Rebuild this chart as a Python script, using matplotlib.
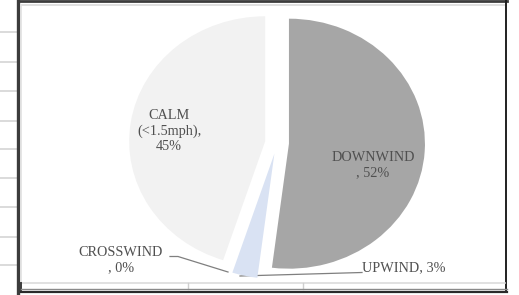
import matplotlib
matplotlib.use("Agg")
import matplotlib.pyplot as plt

# wind direction shares (%), clockwise from 12 o'clock
categories = ["DOWNWIND", "UPWIND", "CROSSWIND", "CALM (<1.5mph)"]
shares = [52, 3, 0, 45]
labels = ["DOWNWIND\n, 52%", "UPWIND, 3%", "CROSSWIND\n, 0%", "CALM\n(<1.5mph),\n45%"]
colors = ["#a6a6a6", "#d9e2f3", "#d9e2f3", "#f2f2f2"]

W, H = 519, 295
fig = plt.figure(figsize=(W / 100, H / 100), dpi=100)

# spreadsheet background + chart frame, drawn in pixel coordinates
bg = fig.add_axes([0, 0, 1, 1])
bg.set_xlim(0, W)
bg.set_ylim(H, 0)
bg.axis("off")
for y in [32, 62, 91, 121, 149, 178, 207, 237, 265]:
    bg.plot([0, 17], [y, y], color="#d4d4d4", lw=1.2)
bg.plot([18, 18], [0, H], color="#3c3c3c", lw=2.4)
bg.plot([18, W - 12], [0.8, 0.8], color="#3c3c3c", lw=2.0)
bg.plot([21, W - 14], [5, 5], color="#e0e0e0", lw=1.4)
bg.plot([21, 21], [5, 283], color="#e0e0e0", lw=1.2)
bg.plot([W - 13, W - 13], [0, 292], color="#202020", lw=1.4)
bg.plot([21, W - 14], [283, 283], color="#dcdcdc", lw=1.2)
for x in [188, 303]:
    bg.plot([x, x], [283, 289], color="#cfcfcf", lw=1.0)
bg.plot([21, 21], [283, 292], color="#3c3c3c", lw=1.4)
bg.plot([21, W - 12], [289.3, 289.3], color="#8a8a8a", lw=1.0)
bg.plot([21, W - 12], [292.2, 292.2], color="#2a2a2a", lw=1.6)

# leader lines
bg.plot([170, 178, 228], [256.5, 256.5, 272], color="#7f7f7f", lw=0.9)
bg.plot([240, 362], [276, 272.5], color="#7f7f7f", lw=0.9)

# pie: centre at (277, 143) px, radius 136 px wide, 125 px tall
cx, cy, rx, ry = 277, 143, 136, 125
ax = fig.add_axes([0, 0, 1, 1])
ax.patch.set_visible(False)
ax.pie(shares, colors=colors, startangle=90, counterclock=False,
       explode=[0.088] * len(shares), wedgeprops=dict(linewidth=0))
ax.set_aspect("auto")
ax.set_xlim(-cx / rx, (W - cx) / rx)
ax.set_ylim(-(H - cy) / ry, cy / ry)
ax.axis("off")

# data labels sit on top of the pie, placed in pixel coords
font = dict(family="Liberation Serif", fontsize=10.3, color="#505050",
            ha="center", va="center", linespacing=1.22,
            transform=bg.transData)
ax.text(373, 165, labels[0], **font)
ax.text(404, 268, labels[1], **font)
ax.text(121, 260, labels[2], **font)
ax.text(169, 131, labels[3], **font)

fig.savefig("out.png", dpi=100)
